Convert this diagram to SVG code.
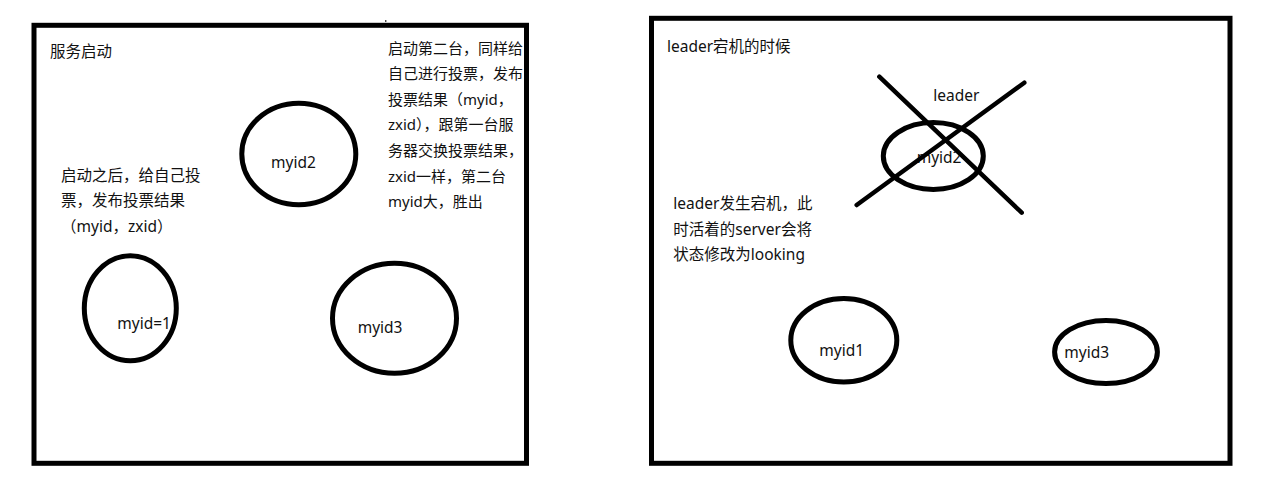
<svg xmlns="http://www.w3.org/2000/svg" width="1271" height="487" viewBox="0 0 1271 487">
<style>
.frame{fill:none;stroke:#000;stroke-width:5}
.node{fill:none;stroke:#000;stroke-width:5}
.cross{stroke:#000;stroke-width:4.5;stroke-linecap:round}
text{font-family:"Noto Sans","Noto Sans CJK SC",sans-serif;font-size:15.5px;fill:#111}
.narrow{font-size:15px}
</style>
<rect width="1271" height="487" fill="#fff"/>
<g id="panel-left">
<rect class="frame" x="34" y="25.3" width="492.5" height="438"/>
<line x1="385.8" y1="20" x2="385.8" y2="22" stroke="#000" stroke-width="1"/>
<text x="50" y="57">服务启动</text>
<text x="61" y="180.5">启动之后，给自己投</text>
<text x="61" y="206">票，发布投票结果</text>
<text x="61" y="231.5">（myid，zxid）</text>
<g class="narrow">
<text class="narrow" x="388" y="53.5">启动第二台，同样给</text>
<text class="narrow" x="388" y="79.1">自己进行投票，发布</text>
<text class="narrow" x="388" y="104.7">投票结果（myid，</text>
<text class="narrow" x="388" y="130.3">zxid），跟第一台服</text>
<text class="narrow" x="388" y="155.9">务器交换投票结果，</text>
<text class="narrow" x="388" y="181.5">zxid一样，第二台</text>
<text class="narrow" x="388" y="207.1">myid大，胜出</text>
</g>
</g>
<g id="node-left-myid2">
<ellipse class="node" cx="298.8" cy="154" rx="57" ry="50.8"/>
<text x="271" y="168">myid2</text>
</g>
<g id="node-left-myid1">
<ellipse class="node" cx="130.3" cy="308.3" rx="46" ry="52.5"/>
<text x="117.3" y="329">myid=1</text>
</g>
<g id="node-left-myid3">
<ellipse class="node" cx="394.5" cy="318.2" rx="62" ry="55"/>
<text x="357.7" y="333">myid3</text>
</g>
<g id="panel-right">
<rect class="frame" x="651.5" y="18.3" width="578.5" height="445"/>
<text x="667" y="52">leader宕机的时候</text>
<text x="933.3" y="101">leader</text>
<text x="673.3" y="209">leader发生宕机，此</text>
<text x="673.3" y="234.6">时活着的server会将</text>
<text x="673.3" y="260.2">状态修改为looking</text>
</g>
<g id="node-right-myid2">
<ellipse class="node" cx="933.3" cy="156" rx="50" ry="33.5" stroke-width="4.5"/>
<text x="916.7" y="163">myid2</text>
</g>
<g id="node-right-myid1">
<ellipse class="node" cx="843.8" cy="340.2" rx="53" ry="41.7"/>
<text x="819.3" y="355.7">myid1</text>
</g>
<g id="node-right-myid3">
<ellipse class="node" cx="1106" cy="352" rx="51.4" ry="31.5"/>
<text x="1064.3" y="358.3">myid3</text>
</g>
<g id="connectors">
<line class="cross" x1="879.3" y1="76.7" x2="1021.7" y2="212.7"/>
<line class="cross" x1="1024.3" y1="82.7" x2="856.7" y2="205"/>
</g>
</svg>
